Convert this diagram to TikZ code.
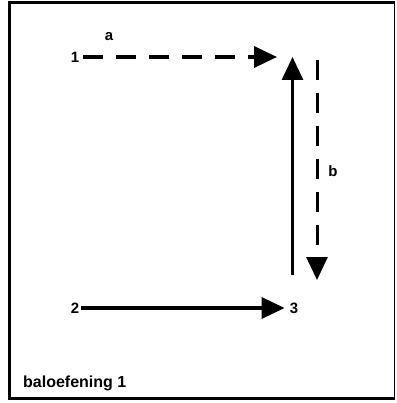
\documentclass[tikz,border=0pt]{standalone}
\usepackage{fontspec}
\setmainfont{Liberation Sans}
\usetikzlibrary{arrows.meta}
\begin{document}
\begin{tikzpicture}[x=1pt,y=-1pt,
  lbl/.style={inner sep=0pt,font=\fontsize{15}{17}\selectfont\bfseries},
  dashline/.style={line width=3.5pt,dash pattern=on 20pt off 13pt},
  solidline/.style={line width=3.2pt},
  tip/.style={-{Triangle[length=23pt,width=21pt]}}]
\useasboundingbox (0,0) rectangle (396,403);
% frame
\draw[line width=3pt] (394.5,2.5) -- (9,2.5) -- (9,398) -- (394.5,398);
\draw[line width=0.8pt] (394.5,2.5) -- (394.5,398);
% labels
\node[lbl] (n1) at (75,57) {1};
\node[lbl] (n2) at (75,308) {2};
\node[lbl] (n3) at (294,308) {3};
\node[lbl] (la) at (109,37) {a};
\node[lbl] (lb) at (333,171) {b};
\node[anchor=base west,inner sep=0pt,font=\fontsize{16}{19}\selectfont\bfseries] (title) at (23,387) {baloefening 1};
% coordinates
\coordinate (aend) at (277,57);
\coordinate (bstart) at (317,60);
\coordinate (bend) at (317,280);
\coordinate (upstart) at (292.5,275);
\coordinate (upend) at (292.5,57);
% arrows
\draw[dashline,tip] (n1.east) ++(4,0) -- (aend);
\draw[dashline,line width=3pt,tip,dash pattern=on 20pt off 13pt] (bstart) -- (bend);
\draw[solidline,tip] (n2.east) ++(2,0) -- ([xshift=-5pt]n3.west);
\draw[solidline,tip] (upstart) -- (upend);
\end{tikzpicture}
\end{document}
